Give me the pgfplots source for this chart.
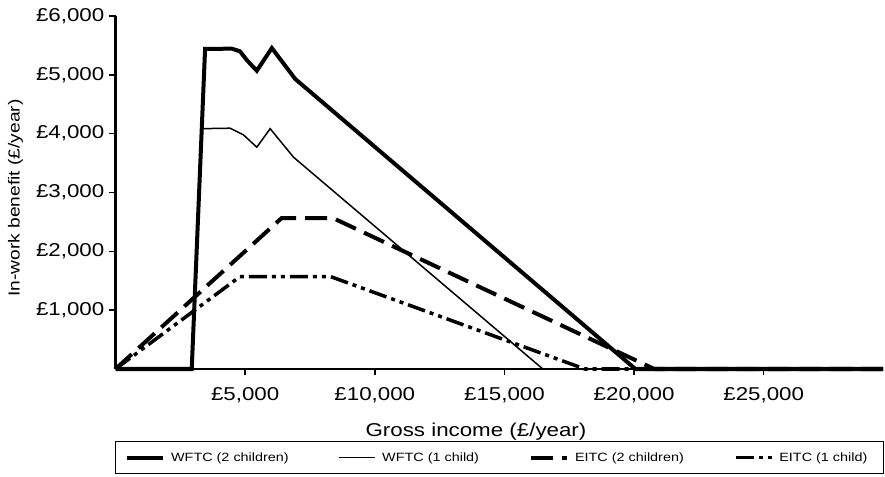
\documentclass[border=0pt]{standalone}
\usepackage{fontspec}
\setmainfont{Liberation Sans}[FakeStretch=1.2]
\usepackage{pgfplots}
\pgfplotsset{compat=1.18}
\begin{document}
\begin{tikzpicture}
\useasboundingbox (0,0) rectangle (885bp,477bp);
\begin{axis}[
  at={(115.5bp,108bp)}, anchor=south west,
  scale only axis, width=767.5bp, height=353bp,
  xmin=0, xmax=29600, ymin=0, ymax=6000,
  axis x line*=bottom, axis y line*=left,
  axis line style={line width=2bp, -},
  clip=false,
  scaled x ticks=false, scaled y ticks=false,
  xtick={5000,10000,15000,20000,25000},
  xticklabels={{£5,000},{£10,000},{£15,000},{£20,000},{£25,000}},
  ytick={1000,2000,3000,4000,5000,6000},
  yticklabels={{£1,000},{£2,000},{£3,000},{£4,000},{£5,000},{£6,000}},
  tick align=outside, major tick length=6bp,
  tick style={black, line width=1.5bp},
  tick label style={font=\fontsize{18.6bp}{22bp}\selectfont, inner sep=0pt},
  /pgf/number format/assume math mode=true,
  yticklabel style={xshift=-5bp},
  xticklabel style={yshift=-12bp},
  xlabel={Gross income (£/year)},
  ylabel={In-work benefit (£/year)},
  xlabel style={font=\fontsize{18.6bp}{22bp}\selectfont, inner sep=0pt, at={(axis description cs:0.4697,0)}, anchor=north, yshift=-53.5bp},
  ylabel style={font=\fontsize{16bp}{19bp}\selectfont, inner sep=0pt, at={(axis description cs:0,0.484)}, anchor=center, yshift=100bp},
  legend columns=4,
  legend image code/.code={\draw[#1] (0bp,0bp) -- (36bp,0bp);},
  legend style={at={(0.5,0)}, anchor=north, yshift=-72bp, xshift=0bp,
    draw=black, line width=1.2bp, inner xsep=10bp, inner ysep=9bp,
    font=\fontsize{12bp}{14bp}\selectfont,
    nodes={inner xsep=6bp, inner ysep=2bp},
    /tikz/every even column/.append style={column sep=44bp}},
]
\addplot[black, line width=4bp] coordinates {(0,0) (2940,0) (3455,5440) (4486,5445) (4800,5400) (5065,5250) (5450,5070) (6030,5455) (6930,4930) (20050,0) (29600,0)};
\addlegendentry{WFTC (2 children)}
\addplot[black, line width=1.5bp] coordinates {(0,0) (2940,0) (3330,4085) (4420,4093) (4934,3980) (5450,3770) (5965,4085) (6865,3600) (16480,0) (29600,0)};
\addlegendentry{WFTC (1 child)}
\addplot[black, line width=4bp, dash pattern=on 22bp off 9bp] coordinates {(0,0) (6400,2563) (8400,2563) (20780,0) (29600,0)};
\addlegendentry{EITC (2 children)}
\addplot[black, line width=3.5bp, dash pattern=on 18bp off 5bp on 4bp off 5bp on 4bp off 5bp] coordinates {(0,0) (4800,1570) (8300,1570) (18100,0) (29600,0)};
\addlegendentry{EITC (1 child)}
\end{axis}
\end{tikzpicture}
\end{document}
